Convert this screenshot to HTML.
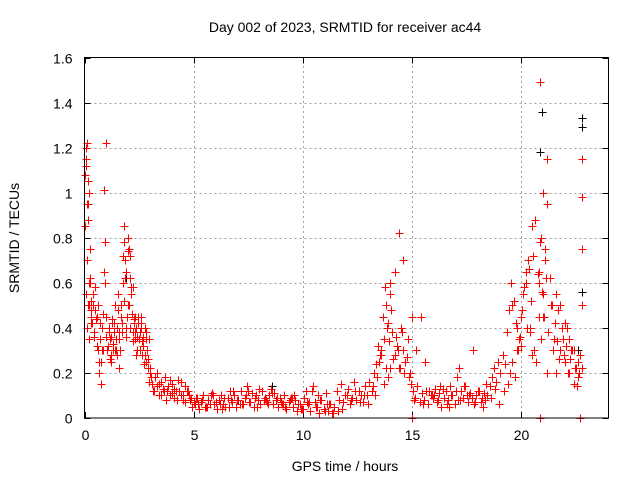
<!DOCTYPE html>
<html><head><meta charset="utf-8"><style>
body{margin:0;background:#fff;font-family:"Liberation Sans",sans-serif;}
svg text{font-family:"Liberation Sans",sans-serif;font-size:14px;fill:#000;}
</style></head><body>
<svg id="chart" width="640" height="480" viewBox="0 0 640 480" xmlns="http://www.w3.org/2000/svg">
<rect width="640" height="480" fill="#fff"/>
<text x="345" y="32" text-anchor="middle">Day 002 of 2023, SRMTID for receiver ac44</text>
<text x="345" y="471" text-anchor="middle">GPS time / hours</text>
<text transform="translate(19,238) rotate(-90)" text-anchor="middle">SRMTID / TECUs</text>
<g id="grid"></g>
<g id="ticks"></g>
<g id="marks" shape-rendering="crispEdges"></g>
<rect x="84.5" y="57.5" width="524" height="360.5" fill="none" stroke="#000" stroke-width="1"/>
</svg>
<script>
const xTicks=[0,5,10,15,20];
const yTicks=[0,0.2,0.4,0.6,0.8,1,1.2,1.4,1.6];
const yTickLabels=["0","0.2","0.4","0.6","0.8","1","1.2","1.4","1.6"];
const redHours=[0.02,0.05,0.08,0.1,0.12,0.15,0.18,0.2,0.22,0.25,0.28,0.3,0.05,0.1,0.15,0.2,0.25,0.3,0.35,0.4,0.45,0.5,0.55,0.6,0.65,0.7,0.75,0.8,0.85,0.9,0.95,1.0,1.0,0.9,1.05,1.1,1.15,1.2,1.25,1.3,1.35,1.4,1.45,1.5,1.55,1.6,1.65,1.7,1.75,1.8,1.85,1.9,1.95,2.0,2.05,2.1,2.15,2.2,2.25,2.3,2.35,2.4,2.45,2.5,2.55,2.6,2.65,2.7,2.75,2.8,2.85,2.9,2.95,3.0,1.8,1.9,2.0,2.1,2.2,2.3,1.2,1.4,1.6,2.6,2.8,3.05,3.1,3.2,3.3,3.4,3.5,3.6,3.7,3.8,3.9,4.0,4.1,4.2,4.3,4.4,4.5,4.6,4.7,4.8,4.9,5.0,5.2,5.4,5.6,5.8,6.0,6.2,6.4,6.6,6.8,7.0,7.2,7.4,7.6,7.8,8.0,8.2,8.4,8.6,8.8,9.0,9.2,9.4,9.6,9.8,10.0,10.2,10.4,10.6,10.8,11.0,11.2,11.4,5.1,5.5,5.9,6.3,6.7,7.1,7.5,7.9,8.3,8.7,9.1,9.5,9.9,10.3,10.7,11.1,11.6,11.8,12.0,12.2,12.4,12.6,12.8,13.0,13.2,13.3,13.4,13.5,13.6,13.7,13.8,13.9,14.0,14.1,14.2,14.3,14.4,14.5,14.6,14.7,14.8,14.9,13.6,13.7,13.8,13.9,14.0,14.2,14.4,14.6,15.0,15.2,15.4,15.6,15.8,16.0,16.2,16.4,16.6,16.8,17.0,17.2,17.4,17.6,17.8,18.0,18.2,18.4,15.1,15.5,15.9,16.3,16.7,17.1,17.5,17.9,18.3,18.6,18.8,19.0,19.2,19.4,19.5,19.6,19.7,19.8,19.9,20.0,20.1,20.2,19.6,19.8,20.0,20.2,20.3,20.4,20.5,20.6,20.7,20.8,20.9,21.0,21.1,21.2,21.3,21.4,20.4,20.6,20.7,20.8,20.9,21.0,21.1,21.2,20.5,20.8,21.0,21.2,21.5,21.6,21.7,21.8,21.9,22.0,22.1,22.2,22.3,22.4,22.5,22.6,22.7,21.6,21.8,22.0,22.2,22.4,22.6,22.8,22.8,22.8,22.8,22.8,14.0,15.0,22.7,20.85,20.85];
const redValues=[1.08,1.2,1.15,1.22,0.95,1.05,0.88,1.0,0.6,0.75,0.52,0.45,0.55,0.4,0.5,0.35,0.6,0.48,0.42,0.5,0.38,0.58,0.45,0.3,0.2,0.35,0.25,0.4,0.3,0.65,0.78,1.22,0.45,1.01,0.3,0.38,0.35,0.28,0.42,0.33,0.38,0.5,0.3,0.4,0.55,0.35,0.45,0.38,0.6,0.85,0.7,0.4,0.45,0.8,0.75,0.62,0.55,0.38,0.42,0.35,0.4,0.3,0.45,0.35,0.38,0.42,0.28,0.32,0.4,0.25,0.3,0.22,0.35,0.2,0.78,0.65,0.5,0.72,0.58,0.45,0.25,0.3,0.22,0.45,0.35,0.18,0.15,0.12,0.2,0.15,0.1,0.13,0.18,0.12,0.1,0.15,0.09,0.12,0.17,0.1,0.08,0.14,0.12,0.1,0.09,0.07,0.06,0.08,0.05,0.1,0.07,0.06,0.09,0.05,0.12,0.08,0.06,0.1,0.07,0.09,0.13,0.08,0.06,0.11,0.09,0.07,0.05,0.08,0.1,0.06,0.04,0.07,0.12,0.05,0.08,0.03,0.06,0.02,0.09,0.05,0.1,0.04,0.08,0.06,0.12,0.05,0.08,0.11,0.06,0.09,0.04,0.07,0.1,0.06,0.03,0.04,0.1,0.08,0.12,0.07,0.1,0.06,0.14,0.1,0.18,0.25,0.3,0.35,0.5,0.42,0.6,0.38,0.28,0.32,0.22,0.4,0.3,0.25,0.35,0.2,0.28,0.15,0.22,0.18,0.55,0.65,0.82,0.7,0.45,0.3,0.45,0.25,0.12,0.1,0.08,0.13,0.06,0.1,0.12,0.08,0.14,0.1,0.3,0.12,0.09,0.15,0.08,0.06,0.1,0.14,0.05,0.08,0.1,0.07,0.11,0.09,0.13,0.06,0.12,0.15,0.2,0.25,0.18,0.3,0.35,0.45,0.55,0.65,0.5,0.4,0.32,0.6,0.7,0.38,0.28,0.3,0.25,0.45,0.35,0.55,0.7,0.95,0.62,0.5,0.4,0.3,0.25,0.6,0.8,1.0,0.75,1.15,0.85,0.65,0.45,0.2,0.35,0.55,0.48,0.3,0.35,0.25,0.4,0.2,0.3,0.15,0.22,0.18,0.28,0.2,0.5,0.42,0.35,0.3,0.25,0.22,1.15,0.98,0.75,0.5,0.22,0.0,0.0,0.0,1.49,1.45];
const extraHours=[0.03,0.07,0.12,0.17,0.22,0.27,0.32,0.37,0.42,0.47,0.52,0.57,0.62,0.67,0.72,0.77,0.82,0.87,0.92,0.97,1.07,1.12,1.17,1.22,1.27,1.32,1.37,1.42,1.47,1.52,1.57,1.62,1.67,1.72,1.77,1.82,1.87,1.92,1.97,2.02,2.07,2.12,2.17,2.22,2.27,2.32,2.37,2.42,2.47,2.52,2.57,2.62,2.67,2.72,2.77,2.82,2.87,2.92,2.97,3.02,3.12,3.22,3.32,3.42,3.52,3.62,3.72,3.82,3.92,4.02,4.12,4.22,4.32,4.42,4.52,4.62,4.72,4.82,4.92,5.05,5.15,5.25,5.35,5.45,5.55,5.65,5.75,5.85,5.95,6.05,6.15,6.25,6.35,6.45,6.55,6.65,6.75,6.85,6.95,7.05,7.15,7.25,7.35,7.45,7.55,7.65,7.75,7.85,7.95,8.05,8.15,8.25,8.35,8.45,8.55,8.65,8.75,8.85,8.95,9.05,9.15,9.25,9.35,9.45,9.55,9.65,9.75,9.85,9.95,10.05,10.15,10.25,10.35,10.45,10.55,10.65,10.75,10.85,10.95,11.05,11.15,11.25,11.35,11.45,11.55,11.65,11.75,11.85,11.95,12.05,12.15,12.25,12.35,12.45,12.55,12.65,12.75,12.85,12.95,13.05,13.15,13.25,13.35,13.45,13.55,13.65,13.75,13.85,13.95,14.05,14.15,14.25,14.35,14.45,14.55,14.65,14.75,14.85,14.95,15.05,15.15,15.25,15.35,15.45,15.55,15.65,15.75,15.85,15.95,16.05,16.15,16.25,16.35,16.45,16.55,16.65,16.75,16.85,16.95,17.05,17.15,17.25,17.35,17.45,17.55,17.65,17.75,17.85,17.95,18.05,18.15,18.25,18.35,18.45,18.55,18.65,18.75,18.85,18.95,19.05,19.15,19.25,19.35,19.45,19.55,19.65,19.75,19.85,19.95,20.05,20.15,20.25,20.35,20.45,20.55,20.65,20.75,20.85,20.95,21.05,21.15,21.25,21.35,21.45,21.55,21.65,21.75,21.85,21.95,22.05,22.15,22.25,22.35,22.45,22.55,22.65,22.75];
const extraValues=[0.85,1.12,0.7,0.95,0.5,0.62,0.42,0.55,0.36,0.48,0.44,0.32,0.5,0.25,0.42,0.15,0.3,0.46,0.6,0.36,0.32,0.4,0.26,0.36,0.44,0.3,0.42,0.35,0.28,0.48,0.38,0.3,0.5,0.42,0.72,0.52,0.62,0.36,0.74,0.5,0.4,0.58,0.46,0.34,0.44,0.38,0.28,0.36,0.42,0.3,0.4,0.34,0.36,0.24,0.28,0.38,0.3,0.26,0.16,0.22,0.12,0.18,0.14,0.1,0.16,0.12,0.08,0.14,0.17,0.11,0.13,0.08,0.12,0.16,0.1,0.07,0.12,0.08,0.05,0.06,0.09,0.04,0.07,0.1,0.05,0.08,0.06,0.11,0.06,0.04,0.08,0.1,0.06,0.05,0.09,0.12,0.07,0.1,0.05,0.08,0.12,0.06,0.09,0.14,0.07,0.11,0.05,0.1,0.08,0.06,0.12,0.09,0.07,0.1,0.13,0.06,0.08,0.05,0.09,0.06,0.1,0.04,0.07,0.09,0.05,0.08,0.03,0.06,0.04,0.09,0.12,0.06,0.03,0.14,0.07,0.05,0.02,0.08,0.04,0.11,0.03,0.06,0.02,0.05,0.12,0.08,0.15,0.07,0.1,0.13,0.06,0.09,0.16,0.08,0.12,0.1,0.07,0.14,0.1,0.16,0.12,0.2,0.24,0.32,0.28,0.45,0.58,0.4,0.34,0.48,0.26,0.36,0.3,0.22,0.38,0.2,0.27,0.18,0.15,0.12,0.09,0.14,0.07,0.11,0.08,0.12,0.06,0.1,0.09,0.13,0.07,0.11,0.05,0.09,0.12,0.08,0.14,0.1,0.06,0.18,0.22,0.12,0.09,0.14,0.07,0.11,0.09,0.06,0.1,0.12,0.07,0.05,0.08,0.1,0.14,0.18,0.22,0.16,0.25,0.2,0.28,0.24,0.38,0.48,0.6,0.52,0.42,0.3,0.36,0.48,0.58,0.4,0.66,0.52,0.72,0.88,0.64,0.78,0.56,0.45,0.62,0.38,0.5,0.3,0.42,0.34,0.26,0.4,0.28,0.32,0.2,0.26,0.3,0.22,0.14,0.2];
const blackHours=[20.95,20.85,22.8,22.8,22.8,22.6,1.9,8.6];
const blackValues=[1.36,1.18,1.33,1.29,0.56,0.3,0.62,0.14];
const X0=84.5,X1=608.5,Y0=418,Y1=57.5;
function xs(v){return X0+(v/24)*(X1-X0);}
function ys(v){return Y0-(v/1.6)*(Y0-Y1);}
const NS="http://www.w3.org/2000/svg";
const grid=document.getElementById('grid'),ticks=document.getElementById('ticks'),marks=document.getElementById('marks');
function mk(tag,attrs,parent){const e=document.createElementNS(NS,tag);for(const k in attrs)e.setAttribute(k,attrs[k]);parent.appendChild(e);return e;}
yTicks.forEach((v,i)=>{
 const y=Math.round(ys(v))+0.5;
 if(i>0&&i<yTicks.length-1){const g=mk('line',{x1:X0,x2:X1,y1:y,y2:y,stroke:'#a0a0a0','stroke-dasharray':'2,3'},grid);
 
 }
 mk('line',{x1:X0,x2:X0+6,y1:y,y2:y,stroke:'#000'},grid);
 mk('line',{x1:X1-6,x2:X1,y1:y,y2:y,stroke:'#000'},grid);
 const t=mk('text',{x:X0-12,y:y+5,'text-anchor':'end'},ticks);t.textContent=yTickLabels[i];
 
 
});
xTicks.forEach(v=>{
 const x=Math.round(xs(v))+0.5;
 if(v>0){const g=mk('line',{x1:x,x2:x,y1:Y0,y2:Y1,stroke:'#a0a0a0','stroke-dasharray':'2,3'},grid);
 
 }
 mk('line',{x1:x,x2:x,y1:Y0,y2:Y0-6,stroke:'#000'},grid);
 mk('line',{x1:x,x2:x,y1:Y1,y2:Y1+6,stroke:'#000'},grid);
 const t=mk('text',{x:x,y:Y0+22,'text-anchor':'middle'},ticks);t.textContent=String(v);
 
 
});
function plus(h,v,color){
 const x=Math.round(xs(h))+0.5,y=Math.round(ys(v))+0.5;
 return mk('path',{d:`M${x-4},${y}H${x+4}M${x},${y-4}V${y+4}`,stroke:color,'stroke-width':1,fill:'none'},marks);
}
blackHours.forEach((h,i)=>{const p=plus(h,blackValues[i],'#000000');
 
 });
redHours.forEach((h,i)=>{const p=plus(h,redValues[i],'#ff0000');
 
 });
extraHours.forEach((h,i)=>{const p=plus(h,extraValues[i],'#ff0000');
 
 });
</script>
</body></html>
